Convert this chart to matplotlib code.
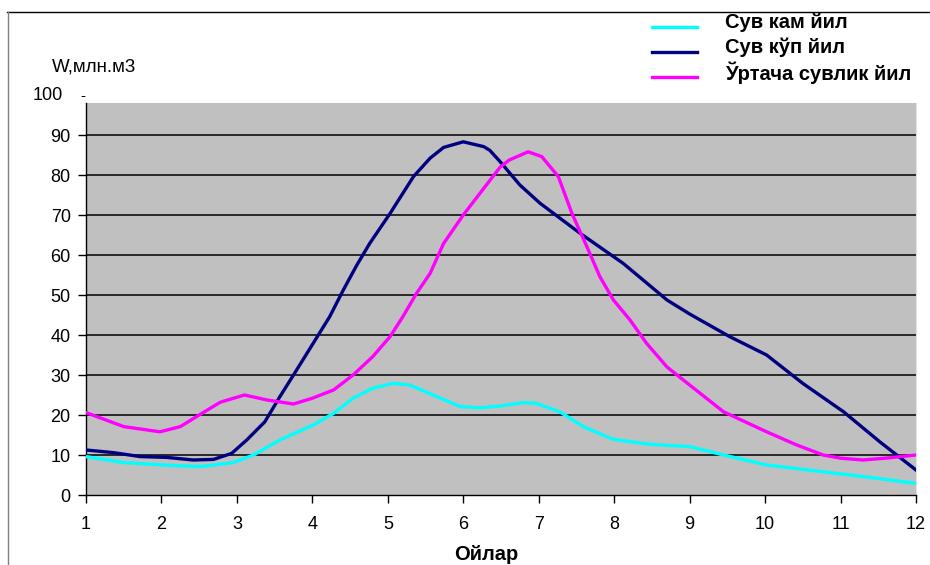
import matplotlib.pyplot as plt
from matplotlib.lines import Line2D

plt.rcParams['font.family'] = ['Liberation Sans', 'DejaVu Sans']

# Сув кам йил
m_low = [1, 1.5, 2.03, 2.51, 2.95, 3.22, 3.57, 4.01, 4.28, 4.54, 4.8, 5.07, 5.29, 5.6, 5.96,
         6.22, 6.49, 6.79, 6.97, 7.28, 7.59, 7.99, 8.47, 9.0, 9.45, 10.02, 10.77, 11.39, 12]
w_low = [9.6, 8.1, 7.5, 7.1, 8.1, 10, 13.75, 17.5, 20.4, 24.2, 26.7, 27.9, 27.5, 25, 22.1,
         21.8, 22.25, 23.1, 22.9, 20.8, 17.1, 13.9, 12.7, 12.1, 10, 7.5, 5.8, 4.4, 2.9]

# Сув кўп йил
m_high = [1, 1.36, 1.72, 2.07, 2.42, 2.69, 2.93, 3.13, 3.37, 3.57, 3.75, 4.01, 4.23, 4.41,
          4.59, 4.76, 5.03, 5.34, 5.56, 5.74, 6.0, 6.27, 6.35, 6.49, 6.75, 7.02, 7.55, 8.12,
          8.7, 9.0, 9.53, 10.02, 10.5, 11.04, 11.52, 12]
w_high = [11.25, 10.6, 9.6, 9.4, 8.75, 8.9, 10.4, 13.75, 18.3, 24.6, 30, 37.9, 44.6, 51.25,
          57.5, 62.9, 70.4, 79.6, 84.2, 86.9, 88.3, 87.1, 86.2, 83.3, 77.5, 72.9, 65.4, 57.9,
          48.75, 45.25, 39.6, 35, 27.9, 20.8, 13.3, 6.25]

# Ўртача сувлик йил
m_mid = [1, 1.5, 1.98, 2.25, 2.5, 2.78, 3.1, 3.4, 3.75, 4.0, 4.28, 4.54, 4.8, 5.03, 5.2, 5.38,
         5.56, 5.74, 6.0, 6.22, 6.49, 6.61, 6.86, 7.04, 7.26, 7.44, 7.64, 7.81, 7.99, 8.21,
         8.43, 8.7, 9.0, 9.45, 10.02, 10.42, 10.77, 11.0, 11.3, 11.65, 12]
w_mid = [20.6, 17.1, 15.8, 17.1, 20, 23.2, 25, 23.75, 22.75, 24.2, 26.25, 30, 34.6, 39.6, 44.6,
         50.4, 55.4, 62.9, 70, 75.4, 82, 83.75, 85.8, 84.6, 79.6, 70.4, 62, 54.6, 48.75, 43.75,
         37.9, 32, 27.5, 20.8, 15.8, 12.5, 10, 9.2, 8.75, 9.3, 10]

labels = ['Сув кам йил', 'Сув кўп йил', 'Ўртача сувлик йил']
colors = ['#00FFFF', '#000080', '#FF00FF']
months = list(range(1, 13))
yticks = list(range(0, 100, 10))

fig = plt.figure(figsize=(9.3, 5.65), dpi=100)
ax = fig.add_axes([86/930, 1-495/565, 830/930, 392/565])
ax.set_facecolor('#C0C0C0')

for y in yticks[1:]:
    ax.axhline(y, color='black', lw=1.1, zorder=1)

ax.plot(m_low, w_low, color=colors[0], lw=2.4, zorder=3)
ax.plot(m_high, w_high, color=colors[1], lw=2.4, zorder=3)
ax.plot(m_mid, w_mid, color=colors[2], lw=2.4, zorder=3)

ax.set_xlim(1, 12)
ax.set_ylim(0, 98)
ax.set_xticks(months)
ax.set_yticks(yticks)
ax.tick_params(labelsize=13, length=6, width=1, pad=5)
ax.tick_params(axis='x', pad=9)
ax.spines['top'].set_visible(False)
ax.spines['right'].set_color('#E0E0E0')
ax.spines['left'].set_linewidth(1)
ax.spines['bottom'].set_linewidth(1)

# 100 label sits above the gray area
fig.text(63/930, 1-96/565, '100', ha='right', va='center', fontsize=13)
fig.text(80/930, 1-96/565, '-', ha='left', va='center', fontsize=11)

fig.text(94/930, 1-67/565, 'W,млн.м3', ha='center', va='center', fontsize=13.5)
fig.text(486/930, 1-554/565, 'Ойлар', ha='center', va='center', fontsize=14.5, fontweight='bold')

# legend drawn by hand to sit above the plot
ly = [27, 52, 77]
for i in range(3):
    y = 1 - ly[i]/565
    fig.add_artist(Line2D([652/930, 697/930], [y, y], color=colors[i], lw=2.4))
    fig.text(725/930, y + 0.008, labels[i], ha='left', va='center', fontsize=14.5, fontweight='bold')

# frame lines
fig.add_artist(Line2D([7/930, 1], [1-12/565, 1-12/565], color='black', lw=1))
fig.add_artist(Line2D([8/930, 8/930], [0, 1-12/565], color='#808080', lw=1))

fig.savefig('out.png', dpi=100)
